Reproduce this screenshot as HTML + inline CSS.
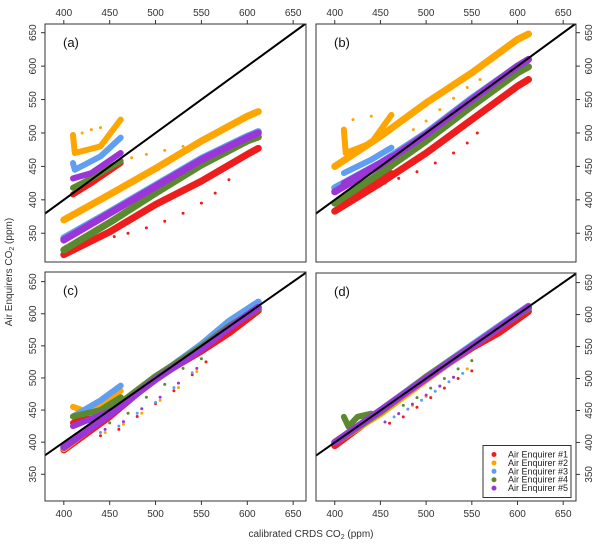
<!DOCTYPE html>
<html><head><meta charset="utf-8">
<style>
body{margin:0;background:#fff;}
svg{display:block;font-family:"Liberation Sans",sans-serif;}
</style></head>
<body>
<svg id="chart" width="600" height="545" viewBox="0 0 600 545" xmlns="http://www.w3.org/2000/svg"></svg>
<script>
const seriesNames = ["Air Enquirer #1","Air Enquirer #2","Air Enquirer #3","Air Enquirer #4","Air Enquirer #5"];
const seriesColors = ["#ee1c1c","#ffa500","#5f9ef0","#5b8a2e","#9b35d8"];
const panelLabels = ["(a)","(b)","(c)","(d)"];
const xTicks = [400,450,500,550,600,650];
const yTicks = [350,400,450,500,550,600,650];
const mainA = [
 [[400,318],[450,352],[500,393],[550,428],[600,468],[612,477]],
 [[400,370],[450,408],[500,447],[550,488],[600,525],[612,532]],
 [[400,343],[450,382],[500,422],[550,462],[600,495],[612,502]],
 [[400,325],[450,366],[500,410],[550,452],[600,488],[612,494]],
 [[400,340],[450,380],[500,420],[550,460],[600,493],[612,500]]];
const spikeA = [
 [[410,408],[430,425],[462,455]],
 [[410,497],[412,470],[440,480],[462,520]],
 [[410,455],[412,445],[440,465],[462,493]],
 [[410,418],[430,432],[462,458]],
 [[410,432],[430,440],[462,470]]];
const sparseA = [
 [[455,345],[470,350],[490,358],[510,368],[530,380],[550,395],[565,410],[580,430]],
 [[420,500],[430,505],[440,508],[474,463],[490,468],[510,474],[530,480],[554,488]],
 [],[],[]];
const mainB = [
 [[400,383],[450,425],[500,470],[550,520],[600,570],[612,580]],
 [[400,450],[450,495],[500,545],[550,590],[600,640],[612,648]],
 [[400,418],[450,455],[500,500],[550,552],[600,600],[612,610]],
 [[400,395],[450,440],[500,488],[550,540],[600,590],[612,599]],
 [[400,412],[450,452],[500,498],[550,550],[600,600],[612,610]]];
const spikeB = [
 [[410,395],[462,440]],
 [[410,505],[412,470],[440,485],[462,527]],
 [[410,440],[440,460],[462,478]],
 [[410,405],[462,450]],
 [[410,425],[462,465]]];
const sparseB = [
 [[455,425],[470,432],[490,442],[510,455],[530,470],[545,485],[556,500]],
 [[420,520],[440,525],[486,505],[500,518],[515,535],[530,552],[545,568],[559,580]],
 [],[],[]];
const mainC = [
 [[400,388],[450,440],[500,500],[550,542],[580,570],[612,605]],
 [[400,390],[450,445],[500,497],[550,548],[580,580],[612,610]],
 [[400,392],[450,446],[500,500],[550,552],[580,588],[612,618]],
 [[400,392],[450,448],[500,502],[550,548],[580,580],[612,608]],
 [[400,392],[450,443],[500,498],[550,545],[580,578],[612,610]]];
const spikeC = [
 [[410,430],[462,470]],
 [[410,455],[430,445],[462,480]],
 [[410,440],[440,465],[462,488]],
 [[410,440],[440,450],[462,470]],
 [[410,425],[462,455]]];
const sparseC = [
 [[440,410],[460,420],[480,440],[500,460],[520,480],[540,505],[555,525]],
 [[445,415],[465,428],[485,445],[505,465],[525,485],[545,510]],
 [[440,415],[460,425],[480,445],[500,462],[520,485],[540,508]],
 [[450,430],[470,445],[490,470],[510,490],[530,515],[550,530]],
 [[445,420],[465,432],[485,452],[505,470],[525,492],[545,515]]];
const mainD = [
 [[400,395],[450,448],[500,500],[550,548],[580,572],[612,605]],
 [[400,400],[450,445],[500,498],[550,550],[580,580],[612,612]],
 [[400,400],[450,450],[500,502],[550,552],[580,582],[612,613]],
 [[400,400],[450,448],[500,502],[550,550],[580,580],[612,610]],
 [[400,400],[450,450],[500,500],[550,550],[580,580],[612,612]]];
const spikeD = [[],[],[],[[410,440],[415,425],[425,440],[440,445]],[]];
const sparseD = [
 [[460,430],[475,440],[490,455],[505,470],[520,485],[535,500],[550,512]],
 [[470,445],[485,458],[500,472],[515,488],[530,502],[545,515]],
 [[465,440],[480,452],[495,466],[510,480],[525,495],[540,508]],
 [[475,458],[490,470],[505,485],[520,500],[535,515],[550,528]],
 [[455,432],[470,445],[485,460],[500,474],[515,488],[530,502]]];
const mainData=[mainA,mainB,mainC,mainD], spikeData=[spikeA,spikeB,spikeC,spikeD], sparseData=[sparseA,sparseB,sparseC,sparseD];

const NS="http://www.w3.org/2000/svg";
const svg=document.getElementById('chart');
function mk(tag,attrs,parent){const e=document.createElementNS(NS,tag);for(const k in attrs)e.setAttribute(k,attrs[k]);(parent||svg).appendChild(e);return e;}
const panels=[
 {l:45,r:306,t:24,b:262,xlab:'top',ylab:'left'},
 {l:316,r:576,t:24,b:262,xlab:'top',ylab:'right'},
 {l:45,r:306,t:272,b:501,xlab:'bottom',ylab:'left'},
 {l:316,r:576,t:273,b:501,xlab:'bottom',ylab:'right'}];
const XMIN=379.5,XMAX=664;
panels.forEach((p,pi)=>{
 const ymin = pi<2?307:308.4, ymax = pi<2?663:665;
 const xs=v=>p.l+(v-XMIN)/(XMAX-XMIN)*(p.r-p.l);
 const ys=v=>p.b-(v-ymin)/(ymax-ymin)*(p.b-p.t);
 const g=mk('g',{});
 
 
 const cid='clip'+pi;
 const cp=mk('clipPath',{id:cid},g);mk('rect',{x:p.l,y:p.t,width:p.r-p.l,height:p.b-p.t},cp);
 const plot=mk('g',{'clip-path':'url(#'+cid+')'},g);
 for(let s=0;s<5;s++){
  const col=seriesColors[s];
  const ln=(pts,w)=>{if(!pts||pts.length<2)return;const e=mk('polyline',{points:pts.map(q=>xs(q[0])+','+ys(q[1])).join(' '),fill:'none',stroke:col,'stroke-width':w,'stroke-linecap':'round','stroke-linejoin':'round'},plot);
   
   };
  ln(mainData[pi][s],7);
  ln(spikeData[pi][s],6);
  (sparseData[pi][s]||[]).forEach(q=>{const c=mk('circle',{cx:xs(q[0]),cy:ys(q[1]),r:1.5,fill:col},plot);
   
   });
 }
 const one=mk('line',{x1:xs(XMIN),y1:ys(XMIN),x2:xs(XMAX),y2:ys(XMAX),stroke:'#000','stroke-width':2},plot);
 
 
 const fr=mk('rect',{x:p.l,y:p.t,width:p.r-p.l,height:p.b-p.t,fill:'none',stroke:'#333','stroke-width':1},g);
 
 
 const lb=mk('text',{x:p.l+18,y:p.t+23,'font-size':13,fill:'#111'},g);lb.textContent=panelLabels[pi];
 
 
 xTicks.forEach(v=>{const x=xs(v);
  if(p.xlab==='top'){mk('line',{x1:x,y1:p.t,x2:x,y2:p.t-4,stroke:'#333'},g);
   const t=mk('text',{x:x,y:p.t-8,'font-size':10,'text-anchor':'middle',fill:'#333'},g);t.textContent=v;
   }
  else{mk('line',{x1:x,y1:p.b,x2:x,y2:p.b+4,stroke:'#333'},g);
   const t=mk('text',{x:x,y:p.b+16,'font-size':10,'text-anchor':'middle',fill:'#333'},g);t.textContent=v;
   }
 });
 yTicks.forEach(v=>{const y=ys(v);
  if(p.ylab==='left'){mk('line',{x1:p.l,y1:y,x2:p.l-4,y2:y,stroke:'#333'},g);
   const t=mk('text',{x:p.l-9,y:y,'font-size':10,'text-anchor':'middle',fill:'#333',transform:`rotate(-90 ${p.l-9} ${y})`},g);t.textContent=v;
   }
  else{mk('line',{x1:p.r,y1:y,x2:p.r+4,y2:y,stroke:'#333'},g);
   const t=mk('text',{x:p.r+16,y:y,'font-size':10,'text-anchor':'middle',fill:'#333',transform:`rotate(-90 ${p.r+16} ${y})`},g);t.textContent=v;
   }
 });
});
const lg=mk('g',{});


mk('rect',{x:483,y:445.5,width:88,height:52,fill:'#fff',stroke:'#333'},lg);
seriesNames.forEach((n,i)=>{const y=454.5+i*8.4;
 const c=mk('circle',{cx:494,cy:y,r:2.5,fill:seriesColors[i]},lg);
 
 
 const t=mk('text',{x:508,y:y+3,'font-size':9,fill:'#222'},lg);t.textContent=n;
 
 });
</script>
<svg style="position:absolute;left:0;top:0" width="600" height="545">
<text x="12" y="272" font-size="10" fill="#333" text-anchor="middle" transform="rotate(-90 12 272)" font-family="Liberation Sans, sans-serif">Air Enquirers CO<tspan font-size="7" dy="2">2</tspan><tspan dy="-2"> (ppm)</tspan></text>
<text x="311" y="537" font-size="10" fill="#333" text-anchor="middle" font-family="Liberation Sans, sans-serif">calibrated CRDS CO<tspan font-size="7" dy="2">2</tspan><tspan dy="-2"> (ppm)</tspan></text>
</svg>
</body></html>
